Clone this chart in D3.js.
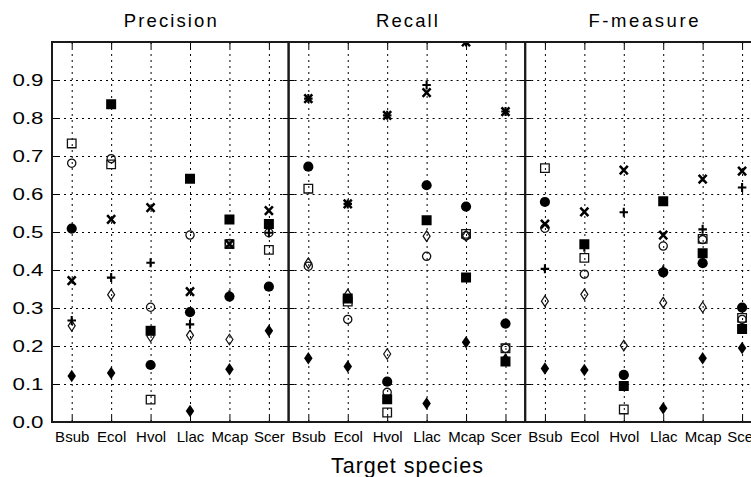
<!DOCTYPE html>
<html>
<head>
<meta charset="utf-8">
<script src="https://cdn.jsdelivr.net/npm/d3@7"></script>
<style>
  body { margin: 0; background: #fff; }
  svg { display: block; font-family: "Liberation Sans", Arial, sans-serif; }
</style>
</head>
<body>
<svg id="chart" width="751" height="477"></svg>
<script>
// Target species on the x axis of every panel
const categories = ["Bsub", "Ecol", "Hvol", "Llac", "Mcap", "Scer"];
const panelTitles = ["Precision", "Recall", "F-measure"];
const yTickValues = [0, 0.1, 0.2, 0.3, 0.4, 0.5, 0.6, 0.7, 0.8, 0.9];
const yTickLabels = ["0.0", "0.1", "0.2", "0.3", "0.4", "0.5", "0.6", "0.7", "0.8", "0.9"];
const axisTitle = "Target species";

// Eight prediction methods (null = no result for that species)
const seriesNames = ["M1", "M2", "M3", "M4", "M5", "M6", "M7", "M8"];

const precision = [
  [0.733, 0.678, 0.059, null, 0.468, 0.453],
  [0.681, 0.693, 0.302, 0.492, 0.470, 0.498],
  [0.253, 0.335, 0.225, 0.228, 0.217, null],
  [0.372, 0.533, 0.564, 0.343, 0.468, 0.556],
  [0.267, 0.380, 0.419, 0.257, 0.335, 0.498],
  [0.509, null, 0.150, 0.289, 0.330, 0.356],
  [null, 0.836, 0.240, 0.640, 0.533, 0.521],
  [0.121, 0.129, null, 0.029, 0.139, 0.240]
];

const recall = [
  [0.614, 0.317, 0.025, null, 0.495, 0.194],
  [0.410, 0.270, 0.078, 0.436, 0.490, 0.194],
  [0.418, 0.335, 0.179, 0.489, 0.490, null],
  [0.851, 0.574, 0.807, 0.867, 1.000, 0.817],
  [0.851, 0.574, 0.807, 0.887, 1.000, 0.817],
  [0.672, null, 0.106, 0.623, 0.567, 0.259],
  [null, 0.325, 0.060, 0.531, 0.380, 0.159],
  [0.168, 0.146, null, 0.049, 0.210, 0.165]
];

const fMeasure = [
  [0.668, 0.432, 0.033, null, 0.482, 0.274],
  [0.510, 0.389, 0.123, 0.463, 0.480, 0.270],
  [0.318, 0.336, 0.201, 0.314, 0.302, null],
  [0.521, 0.553, 0.663, 0.492, 0.639, 0.660],
  [0.403, 0.460, 0.552, 0.400, 0.507, 0.617],
  [0.579, null, 0.124, 0.394, 0.418, 0.301],
  [null, 0.468, 0.095, 0.581, 0.444, 0.245],
  [0.141, 0.137, null, 0.036, 0.168, 0.195]
];

const panelData = [precision, recall, fMeasure];

// ---- marker shapes ----
function rectType(w, h) {
  return { draw(ctx) { ctx.rect(-w / 2, -h / 2, w, h); } };
}
function diamondType(w, h) {
  return { draw(ctx) {
    ctx.moveTo(0, -h / 2); ctx.lineTo(w / 2, 0); ctx.lineTo(0, h / 2); ctx.lineTo(-w / 2, 0); ctx.closePath();
  } };
}
function circleType(r) {
  return { draw(ctx) { ctx.moveTo(r, 0); ctx.arc(0, 0, r, 0, 2 * Math.PI); } };
}
function timesType(w, h) {
  return { draw(ctx) {
    ctx.moveTo(-w / 2, -h / 2); ctx.lineTo(w / 2, h / 2);
    ctx.moveTo(w / 2, -h / 2); ctx.lineTo(-w / 2, h / 2);
  } };
}
function plusType(w, h) {
  return { draw(ctx) {
    ctx.moveTo(-w / 2, 0); ctx.lineTo(w / 2, 0);
    ctx.moveTo(0, -h / 2); ctx.lineTo(0, h / 2);
  } };
}

const markerStyles = [
  { type: rectType(8.6, 8.6),     fill: "none", stroke: "#111", width: 1.3 }, // open square
  { type: circleType(4.1),        fill: "none", stroke: "#111", width: 1.3 }, // open circle
  { type: diamondType(7, 10.5),   fill: "none", stroke: "#111", width: 1.2 }, // open diamond
  { type: timesType(8, 8.5),      fill: "none", stroke: "#000", width: 2.5 }, // cross
  { type: plusType(8.5, 9),       fill: "none", stroke: "#000", width: 2.1 }, // plus
  { type: circleType(5.1),        fill: "#000", stroke: "none", width: 0 },   // filled circle
  { type: rectType(10, 10),       fill: "#000", stroke: "none", width: 0 },   // filled square
  { type: diamondType(8.5, 12.5), fill: "#000", stroke: "none", width: 0 }    // filled diamond
];

// ---- layout ----
const svg = d3.select("#chart");
const plotTop = 42, plotBottom = 422, plotLeft = 52, panelW = 236.6;
const y = d3.scaleLinear().domain([0, 1]).range([plotBottom, plotTop]);
const defs = svg.append("defs");
const titleWidths = [93, 62, 110];

panelTitles.forEach((title, p) => {
  const x0 = plotLeft + p * panelW;
  const x = d3.scalePoint().domain(categories).range([x0, x0 + panelW]).padding(0.5);
  const g = svg.append("g");

  // dotted grid
  g.append("g")
    .attr("transform", `translate(${x0},0)`)
    .call(d3.axisLeft(y).tickValues(yTickValues.slice(1)).tickSize(-panelW).tickFormat(""))
    .call(s => s.select(".domain").remove())
    .selectAll("line").attr("stroke", "#000").attr("stroke-width", 1).attr("stroke-dasharray", "2,4");
  g.append("g")
    .attr("transform", `translate(0,${plotBottom})`)
    .call(d3.axisBottom(x).tickSize(-(plotBottom - plotTop)).tickFormat(""))
    .call(s => s.select(".domain").remove())
    .selectAll("line").attr("stroke", "#000").attr("stroke-width", 1).attr("stroke-dasharray", "2,4");

  // inward solid ticks on all four sides
  const bottomAxis = g.append("g")
    .attr("transform", `translate(0,${plotBottom})`)
    .call(d3.axisBottom(x).tickSize(-6).tickPadding(9.5));
  bottomAxis.select(".domain").remove();
  bottomAxis.selectAll("line").attr("stroke", "#000").attr("stroke-width", 1);
  bottomAxis.selectAll("text").attr("font-size", 15).attr("fill", "#000")
    .attr("font-family", "'Liberation Sans', Arial, sans-serif");

  g.append("g")
    .attr("transform", `translate(0,${plotTop})`)
    .call(d3.axisTop(x).tickSize(-6).tickFormat(""))
    .call(s => s.select(".domain").remove())
    .selectAll("line").attr("stroke", "#000");

  const leftAxis = g.append("g")
    .attr("transform", `translate(${x0},0)`)
    .call(d3.axisLeft(y).tickValues(yTickValues).tickSize(-6).tickPadding(8.5)
      .tickFormat((d, i) => p === 0 ? yTickLabels[i] : ""));
  leftAxis.select(".domain").remove();
  leftAxis.selectAll("line").attr("stroke", "#000");
  leftAxis.selectAll("text").attr("font-size", 16.5).attr("fill", "#000")
    .attr("font-family", "'Liberation Sans', Arial, sans-serif")
    .attr("dy", "0.36em")
    .attr("textLength", 31).attr("lengthAdjust", "spacingAndGlyphs");

  g.append("g")
    .attr("transform", `translate(${x0 + panelW},0)`)
    .call(d3.axisRight(y).tickValues(yTickValues).tickSize(-6).tickFormat(""))
    .call(s => s.select(".domain").remove())
    .selectAll("line").attr("stroke", "#000");

  // markers, clipped to the panel
  const clipId = `clip-${p}`;
  defs.append("clipPath").attr("id", clipId)
    .append("rect").attr("x", x0).attr("y", plotTop).attr("width", panelW).attr("height", plotBottom - plotTop);
  const mg = g.append("g").attr("clip-path", `url(#${clipId})`);

  panelData[p].forEach((values, s) => {
    const st = markerStyles[s];
    const pts = values.map((v, i) => ({ cat: categories[i], v })).filter(d => d.v !== null);
    mg.append("g").attr("class", seriesNames[s])
      .selectAll("path").data(pts).join("path")
      .attr("transform", d => `translate(${x(d.cat)},${y(d.v)})`)
      .attr("d", d3.symbol().type(st.type))
      .attr("fill", st.fill)
      .attr("stroke", st.stroke)
      .attr("stroke-width", st.width);
  });

  // panel frame
  g.append("rect")
    .attr("x", x0).attr("y", plotTop).attr("width", panelW).attr("height", plotBottom - plotTop)
    .attr("fill", "none").attr("stroke", "#1a1a1a").attr("stroke-width", 2);

  // panel title
  svg.append("text")
    .attr("x", x0 + panelW / 2).attr("y", 27)
    .attr("text-anchor", "middle")
    .attr("font-size", 18.5).attr("fill", "#000")
    .attr("textLength", titleWidths[p]).attr("lengthAdjust", "spacing")
    .text(title);
});

// shared x-axis title
svg.append("text")
  .attr("x", plotLeft + 1.5 * panelW).attr("y", 473)
  .attr("text-anchor", "middle")
  .attr("font-size", 21.5).attr("fill", "#000")
  .attr("textLength", 152).attr("lengthAdjust", "spacing")
  .text(axisTitle);
</script>
</body>
</html>
